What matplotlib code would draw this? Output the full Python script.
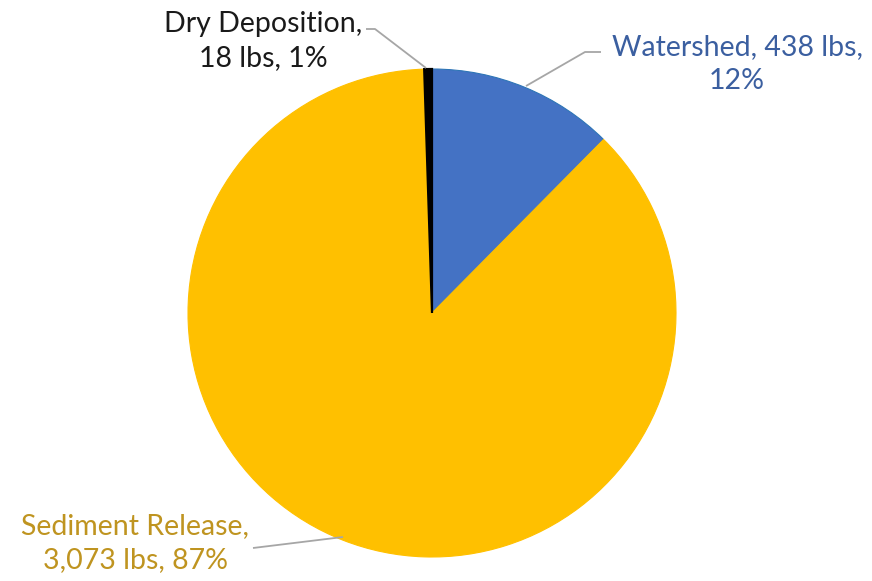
import matplotlib.pyplot as plt

plt.rcParams['font.family'] = ['Lato', 'DejaVu Sans']

# phosphorus load by source, lbs
sources = ['Watershed', 'Sediment Release', 'Dry Deposition']
loads = [438, 3073, 18]
colors = ['#4472C4', '#FFC000', '#000000']
text_colors = ['#3B5FA0', '#BF9420', '#1A1A1A']

fig = plt.figure(figsize=(8.72, 5.81), dpi=100)
W, H = 872, 581
cx, cy, r = 432, 313, 244
ax = fig.add_axes([(cx - r) / W, (H - cy - r) / H, 2 * r / W, 2 * r / H])

wedges, _ = ax.pie(loads, colors=colors, startangle=90, counterclock=False,
                   radius=1, wedgeprops=dict(linewidth=0.8))
for w, c in zip(wedges, colors):
    w.set_edgecolor(c)
wedges[0].set_edgecolor('#2E75B6')
wedges[2].set_linewidth(1.6)
ax.set_xlim(-1, 1)
ax.set_ylim(-1, 1)
ax.set_aspect('equal')
ax.axis('off')


def px(x, y):
    # pixel position -> pie data coordinates
    return ((x - cx) / r, (cy - y) / r)


total = sum(loads)
pct = [round(v / total * 100) for v in loads]
labels = [
    f'{sources[0]}, {loads[0]:,} lbs,\n{pct[0]}%',
    f'{sources[1]},\n{loads[1]:,} lbs, {pct[1]}%',
    f'{sources[2]},\n{loads[2]:,} lbs, {pct[2]}%',
]

# text centre, elbow point, tip on the wedge, line start near text
layout = [
    ((737, 64), (585, 52), (526, 86), (601, 52)),
    ((135, 543), (343, 537), (343, 537), (253, 548)),
    ((263, 41), (375, 29), (426, 68), (366, 29)),
]

for lab, tc, (tpos, elbow, tip, start) in zip(labels, text_colors, layout):
    ax.text(*px(*tpos), lab, ha='center', va='center', color=tc,
            fontsize=20.5, linespacing=1.4)
    xs = [px(*start)[0], px(*elbow)[0], px(*tip)[0]]
    ys = [px(*start)[1], px(*elbow)[1], px(*tip)[1]]
    ax.plot(xs, ys, color='#A6A6A6', lw=1.3, clip_on=False, solid_capstyle='butt')

fig.savefig('out.png', dpi=100)
